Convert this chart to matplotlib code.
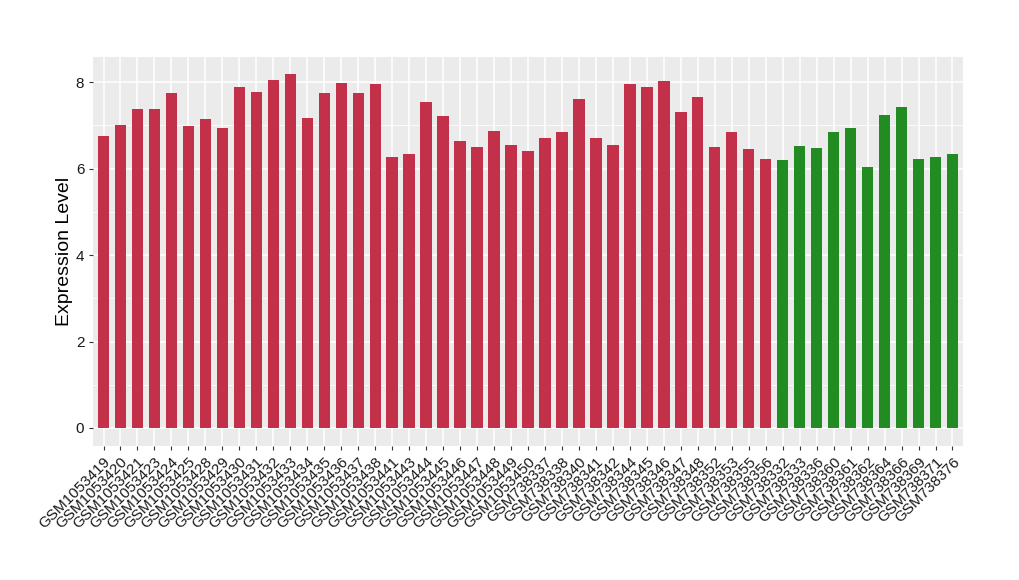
import matplotlib
matplotlib.use("Agg")
import matplotlib.pyplot as plt
from matplotlib.ticker import MultipleLocator

plt.rcParams['font.family'] = ['Liberation Sans', 'DejaVu Sans']

red_samples = ["GSM1053419", "GSM1053420", "GSM1053421", "GSM1053423", "GSM1053424",
               "GSM1053425", "GSM1053428", "GSM1053429", "GSM1053430", "GSM1053431",
               "GSM1053432", "GSM1053433", "GSM1053434", "GSM1053435", "GSM1053436",
               "GSM1053437", "GSM1053438", "GSM1053441", "GSM1053443", "GSM1053444",
               "GSM1053445", "GSM1053446", "GSM1053447", "GSM1053448", "GSM1053449",
               "GSM1053450", "GSM738337", "GSM738338", "GSM738340", "GSM738341",
               "GSM738342", "GSM738344", "GSM738345", "GSM738346", "GSM738347",
               "GSM738348", "GSM738352", "GSM738353", "GSM738355", "GSM738356"]
red_values = [6.75, 7.00, 7.39, 7.37, 7.74, 6.98, 7.16, 6.95, 7.88, 7.78,
              8.06, 8.18, 7.18, 7.76, 7.99, 7.76, 7.97, 6.26, 6.35, 7.55,
              7.21, 6.65, 6.49, 6.86, 6.54, 6.42, 6.72, 6.84, 7.62, 6.72,
              6.54, 7.95, 7.90, 8.02, 7.30, 7.65, 6.49, 6.84, 6.45, 6.22]

green_samples = ["GSM738332", "GSM738333", "GSM738336", "GSM738360", "GSM738361",
                 "GSM738362", "GSM738364", "GSM738366", "GSM738369", "GSM738371",
                 "GSM738376"]
green_values = [6.19, 6.52, 6.47, 6.84, 6.95, 6.03, 7.25, 7.42, 6.22, 6.28, 6.35]

red_color = "#C3304A"
green_color = "#228B22"

samples = red_samples + green_samples
values = red_values + green_values
colors = [red_color] * len(red_samples) + [green_color] * len(green_samples)

fig = plt.figure(figsize=(10.2, 5.8), dpi=100)
ax = fig.add_axes([0.0915, 0.2316, 0.8523, 0.6706])
ax.set_facecolor("#EBEBEB")

x = list(range(len(samples)))
ax.bar(x, values, width=0.67, color=colors, zorder=3)

ax.set_xlim(-0.6, len(samples) - 1 + 0.6)
ax.set_ylim(-0.41, 8.59)
ax.yaxis.set_major_locator(MultipleLocator(2))
ax.yaxis.set_minor_locator(MultipleLocator(1))
ax.set_xticks(x)
ax.set_xticklabels(samples, rotation=45, ha="right", rotation_mode="anchor",
                   fontsize=11, color="#1a1a1a")
ax.tick_params(axis="y", labelsize=11, labelcolor="#1a1a1a")
ax.tick_params(axis="both", which="major", length=3, width=0.8, color="#333333")
ax.tick_params(axis="y", which="minor", length=0)

ax.grid(True, which="major", color="white", linewidth=1.1, zorder=0)
ax.grid(True, which="minor", axis="y", color="white", linewidth=0.55, zorder=0)
ax.set_axisbelow(True)
for s in ax.spines.values():
    s.set_visible(False)

ax.set_ylabel("Expression Level", fontsize=14, labelpad=2)

fig.savefig("out.png", dpi=100)
